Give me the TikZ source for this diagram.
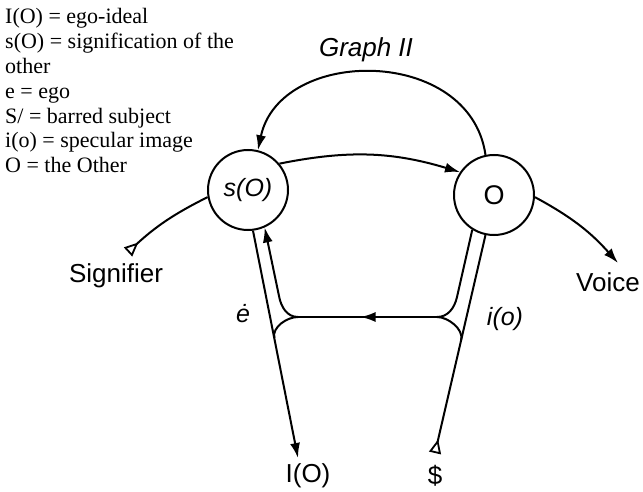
\documentclass[tikz,border=0pt]{standalone}
\usepackage{fontspec}
\setmainfont{Liberation Serif}
\setsansfont{Liberation Sans}
\usetikzlibrary{arrows.meta,decorations.markings}
\begin{document}
\begin{tikzpicture}[x=1pt,y=-1pt,
  ln/.style={line width=2pt},
  tip/.style={-{Latex[length=15pt,width=10pt]}},
  tailtri/.style={{Triangle[open,reversed,length=14pt,width=12pt,line width=1.8pt]}-},
  circ/.style={circle,draw,line width=2pt,minimum size=80pt,inner sep=0pt},
  lbl/.style={font=\sffamily\fontsize{26}{30}\selectfont,inner sep=0pt},
  ilbl/.style={font=\sffamily\itshape\fontsize{25}{30}\selectfont,inner sep=0pt},
  leg/.style={font=\fontsize{22}{24}\selectfont,anchor=base west,inner sep=0pt},
]
\useasboundingbox (0,0) rectangle (643,492);
\fill[white] (0,0) rectangle (643,492);

% legend
\node[leg] (l1) at (5,24) {I(O) = ego-ideal};
\node[leg] (l2) at (5,48.8) {s(O) = signification of the};
\node[leg] (l3) at (5,73.6) {other};
\node[leg] (l4) at (5,98.4) {e = ego};
\node[leg] (l5) at (5,123.2) {S/ = barred subject};
\node[leg] (l6) at (5,148) {i(o) = specular image};
\node[leg] (l7) at (5,172.8) {O = the Other};

% title
\node[font=\sffamily\itshape\fontsize{26}{30}\selectfont,inner sep=0pt] (title) at (366,50) {Graph II};

% circles
\node[circ,ilbl] (sO) at (248,190) {s(O)};
\node[circ,font=\sffamily\fontsize{27}{30}\selectfont] (O) at (494,195) {O};

% top arc and middle arc
\draw[ln,tip] (O.102) .. controls (470,46) and (280,46) .. (sO.76);
\draw[ln,tip] (sO.40) to[bend left=14] (O.146);

% signifier -> voice
\coordinate (sigtail) at (128,252);
\coordinate (voicetip) at (618,263);
\draw[ln,tailtri] (sigtail) to[bend left=8] (sO.190);
\draw[ln,tip] (O.-3) to[bend left=10] (voicetip);
\node[lbl] (sig) at (116,276) {Signifier};
\node[lbl] (voice) at (608,282) {Voice};

% lower structure
\coordinate (jl) at (298,317);
\coordinate (jr) at (437,317);
\coordinate (IOtip) at (298,458);
\coordinate (stail) at (435,453);

\draw[ln,tip] (sO.-83) -- (IOtip);
\draw[ln] (jl) .. controls (287,317) and (272,327) .. (274.3,338);
\draw[ln,tip] (jl) .. controls (287,317) and (281,307) .. (279,296) -- (sO.-66);

\draw[ln,tailtri] (stail) -- (O.-102);
\draw[ln] (jr) .. controls (448,317) and (463.7,329) .. (461.2,340);
\draw[ln] (O.-122) -- (457,297) .. controls (454.5,308) and (448,317) .. (jr);

\draw[ln,decoration={markings,mark=at position 0.55 with {\arrow{Latex[length=15pt,width=10pt]}}},postaction={decorate}] (jr) -- (jl);

% labels
\node[ilbl] (e) at (243,314) {ė};
\node[ilbl] (io) at (505,319) {i(o)};
\node[lbl] (IO) at (308,476) {I(O)};
\node[lbl] (S) at (435,476) {\$};
\end{tikzpicture}
\end{document}
